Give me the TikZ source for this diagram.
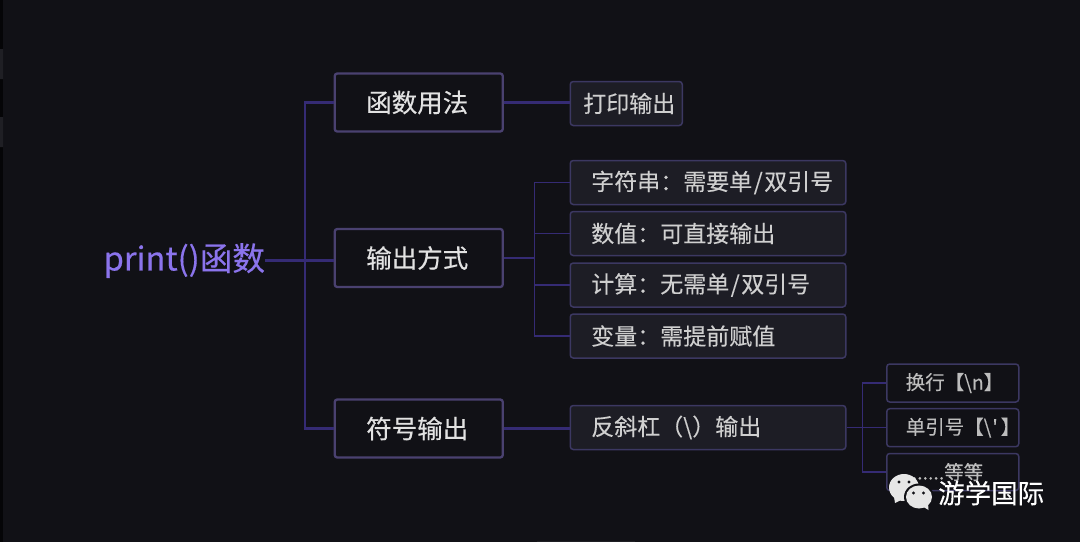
\documentclass[tikz,border=0pt]{standalone}
\usepackage{fontspec}
\setmainfont{Noto Sans CJK SC}
\newfontfamily\heavycjk{Noto Sans CJK SC}[FakeBold=0.35]
\newfontfamily\midcjk{Noto Sans CJK SC}[FakeBold=0.15]
\usetikzlibrary{calc}
\definecolor{canvas}{HTML}{111116}
\definecolor{edgeline}{HTML}{352B74}
\definecolor{rootink}{HTML}{8B74EC}
\definecolor{mainframe}{HTML}{4A4170}
\definecolor{subframe}{HTML}{3C3862}
\definecolor{subfill}{HTML}{1D1D25}
\definecolor{mainink}{HTML}{E2E2E2}
\definecolor{subink}{HTML}{CFCFCF}
\definecolor{leafink}{HTML}{BDBDBD}
\definecolor{markink}{HTML}{E6E6E6}
\newcommand{\slashmark}{\kern1.5pt/\kern1.5pt}
\tikzset{
  x=1pt,y=-1pt,
  rootnode/.style={inner sep=0pt,text=rootink,font=\heavycjk\fontsize{32.6}{36}\selectfont},
  mainbox/.style={draw=mainframe,line width=2.3pt,rounded corners=2.5pt,fill=canvas,
    minimum width=168pt,minimum height=58pt,inner sep=0pt,text=mainink,
    font=\heavycjk\fontsize{25.5}{30}\selectfont,execute at end node=\hspace{3pt}},
  subbox/.style={draw=subframe,line width=1.5pt,rounded corners=3pt,fill=subfill,
    minimum height=44pt,inner ysep=0pt,align=left,text=subink,
    font=\midcjk\fontsize{23}{28}\selectfont},
  leafbox/.style={draw=subframe,line width=1.5pt,rounded corners=3pt,fill=canvas,
    inner xsep=7pt,inner ysep=0pt,text width=118pt,align=left,text=leafink,
    font=\midcjk\fontsize{19.5}{24}\selectfont,execute at begin node=\hspace*{12pt}},
  thick link/.style={draw=edgeline,line width=2.2pt},
  thin link/.style={draw=edgeline,line width=1.6pt},
}
\begin{document}
\begin{tikzpicture}
\useasboundingbox (0,0) rectangle (1080,542);
\fill[canvas] (0,0) rectangle (1080,542);
\fill[black!70!canvas] (0,0) rectangle (3,542);
\fill[white!6!canvas] (0,49) rectangle (3,79) (0,117) rectangle (3,147);
\fill[white!6!canvas] (537,540.5) rectangle (635,542);

% trunk positions of the three branching levels
\coordinate (trunkA) at (305,259);
\coordinate (trunkB) at (534.5,259);
\coordinate (trunkC) at (862.5,428);

\node[rootnode,anchor=west] (root) at (103.5,260.5) {print()函数};

\node[mainbox] (usage)  at (418.75,102.5) {函数用法};
\node[mainbox] (output) at (418.75,258)   {输出方式};
\node[mainbox] (symbol) at (418.75,428.5) {符号输出};

\node[subbox,inner xsep=13pt,text width=86pt,anchor=west]  (print)  at (569.5,103.5) {打印输出};
\node[subbox,inner xsep=21pt,text width=233.5pt,anchor=west] (string) at (569.5,182.5) {字符串：需要单\slashmark 双引号};
\node[subbox,inner xsep=21pt,text width=233.5pt,anchor=west] (number) at (569.5,233.5) {数值：可直接输出};
\node[subbox,inner xsep=21pt,text width=233.5pt,anchor=west] (calcu)  at (569.5,285)   {计算：无需单\slashmark 双引号};
\node[subbox,inner xsep=21pt,text width=233.5pt,anchor=west] (vari)   at (569.5,336)   {变量：需提前赋值};
\node[subbox,inner xsep=21pt,text width=233.5pt,anchor=west] (slash)  at (569.5,427.5) {反斜杠（\textbackslash）输出};

\node[leafbox,minimum height=38pt,anchor=west] (newline) at (886,383)   {换行【\textbackslash n】};
\node[leafbox,minimum height=38pt,anchor=west] (quote)   at (886,427.7) {单引号【\textbackslash\kern1pt\char39\kern3pt 】};
\node[leafbox,minimum height=37pt,anchor=west] (etc)     at (886,472) {\hspace*{6pt}......等等};

% first level connectors
\draw[thick link] (root.east) -- (root.east -| output.west);
\draw[thick link] (usage.west) -- (usage.west -| trunkA) -- (symbol.west -| trunkA) -- (symbol.west);

% second level connectors
\draw[thick link] (usage.east) -- (usage.east -| print.west);
\draw[thick link] (output.east) -- (output.east -| trunkB);
\draw[thick link] (symbol.east) -- (symbol.east -| slash.west);
\draw[thin link] (string.west) -- (string.west -| trunkB) -- (vari.west -| trunkB) -- (vari.west);
\draw[thin link] (number.west) -- (number.west -| trunkB);
\draw[thin link] (calcu.west) -- (calcu.west -| trunkB);

% third level connectors
\draw[thin link] (newline.west) -- (newline.west -| trunkC) -- (etc.west -| trunkC) -- (etc.west);
\draw[thin link] (slash.east) -- (slash.east -| quote.west);

% messaging badge in the lower right corner
\fill[markink] (904,487.5) ellipse (15pt and 13.5pt);
\fill[markink] (894,497) -- (895,503) -- (903,499) -- cycle;
\fill[canvas] (919,497) ellipse (15pt and 13.5pt);
\fill[markink] (919,497) ellipse (13pt and 11.5pt);
\fill[markink] (922,506) -- (928.5,510) -- (928,503) -- cycle;
\fill[canvas] (899,482) circle (1.6pt) (909,482) circle (1.6pt)
              (913.5,493) circle (1.6pt) (923.5,493) circle (1.6pt);
\node[inner sep=0pt,anchor=west,text=white,font=\midcjk\fontsize{26.5}{30}\selectfont] (brand) at (938,493) {游学国际};
\end{tikzpicture}
\end{document}
